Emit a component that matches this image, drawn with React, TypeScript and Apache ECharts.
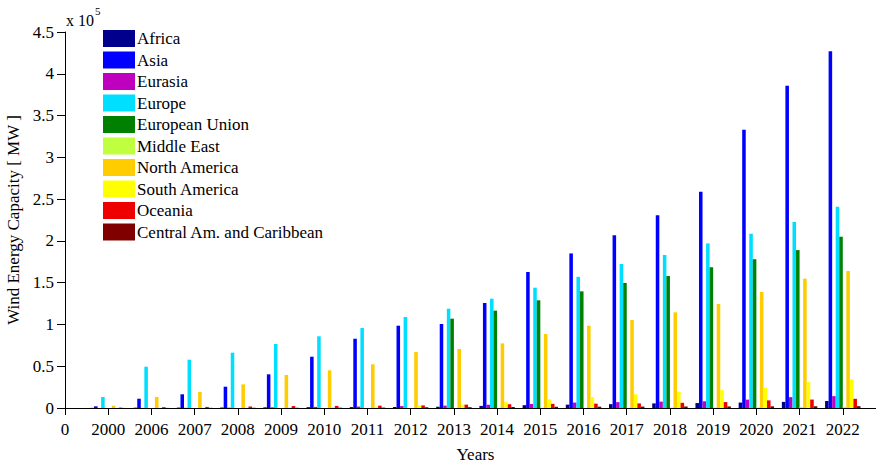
import React, { useEffect, useRef } from "react";
import * as echarts from "echarts";

const xLabels = ["0", "2000", "2006", "2007", "2008", "2009", "2010", "2011", "2012", "2013", "2014", "2015", "2016", "2017", "2018", "2019", "2020", "2021", "2022", ""];

const seriesNames = ["Africa", "Asia", "Eurasia", "Europe", "European Union", "Middle East", "North America", "South America", "Oceania", "Central Am. and Caribbean"];
const seriesColors = ["#00008C", "#0000FF", "#BF00BF", "#00DFFF", "#008000", "#BFFF3F", "#FFCC00", "#FFFF00", "#EE0000", "#800000"];

// values in MW, years 2000, 2006..2022
const africa = [150, 400, 500, 600, 800, 1000, 1100, 1200, 1500, 2500, 3400, 4000, 4600, 5500, 5900, 6500, 7300, 8400];
const asia = [2000, 11100, 16400, 25500, 40300, 61400, 82900, 98500, 100500, 125700, 162800, 185000, 206600, 230600, 258900, 333000, 385800, 426900];
const eurasia = [30, 100, 200, 400, 800, 1300, 1700, 2300, 2800, 3900, 4800, 6500, 7000, 7600, 8000, 10000, 13000, 14200];
const europe = [13200, 49400, 57800, 66200, 76600, 85800, 95700, 108900, 118800, 130800, 144000, 157000, 172300, 183000, 197000, 208600, 222600, 241000];
const europeanUnion = [0, 0, 0, 0, 0, 0, 0, 0, 106900, 116500, 128900, 139600, 149600, 158000, 168400, 178000, 189000, 205000];
const middleEast = [10, 30, 30, 40, 50, 60, 100, 110, 120, 200, 300, 300, 400, 600, 700, 800, 1300, 1500];
const northAmerica = [2800, 13200, 19100, 28300, 39500, 45100, 52300, 67000, 70600, 77400, 88600, 98500, 105300, 114500, 124500, 138800, 154800, 164000];
const southAmerica = [30, 300, 300, 400, 700, 1100, 1700, 2800, 3900, 7000, 10400, 13200, 16400, 19500, 21500, 24300, 31000, 34300];
const oceania = [500, 1000, 1300, 1800, 2300, 2500, 2800, 3100, 4000, 4500, 5000, 5200, 5500, 6200, 7100, 9100, 10100, 11000];
const centralAm = [50, 100, 200, 300, 300, 400, 500, 900, 1000, 1200, 1500, 1600, 1700, 1800, 1900, 2000, 2100, 2200];

const allValues = [africa, asia, eurasia, europe, europeanUnion, middleEast, northAmerica, southAmerica, oceania, centralAm];

const FONT = "'Liberation Serif', 'Times New Roman', serif";

export default function App() {
  const ref = useRef<HTMLDivElement>(null);
  useEffect(() => {
    if (!ref.current) return;
    const chart = echarts.init(ref.current, null, { renderer: "svg" });
    const series = seriesNames.map((name, i) => ({
      name,
      type: "bar",
      data: ["-", ...allValues[i], "-"],
      itemStyle: { color: seriesColors[i] },
      barGap: "0%",
      barCategoryGap: "18%",
    }));
    chart.setOption({
      animation: false,
      grid: { left: 65, top: 32, bottom: 56, right: -10, containLabel: false, outerBoundsMode: "none" },
      legend: {
        data: seriesNames,
        orient: "vertical",
        left: 103,
        top: 30,
        padding: 0,
        itemWidth: 32,
        itemHeight: 17,
        itemGap: 4.5,
        icon: "rect",
        textStyle: { fontFamily: FONT, fontSize: 17, color: "#000", padding: [0, 0, 0, -3] },
      },
      xAxis: {
        type: "category",
        data: xLabels,
        boundaryGap: false,
        axisLine: { lineStyle: { color: "#000", width: 1 } },
        axisTick: { show: true, length: 7, interval: 0, lineStyle: { color: "#000" } },
        axisLabel: { interval: 0, margin: 13, fontFamily: FONT, fontSize: 17, color: "#000" },
        name: "Years",
        nameLocation: "middle",
        nameGap: 38,
        nameTextStyle: { fontFamily: FONT, fontSize: 17, color: "#000" },
      },
      yAxis: {
        type: "value",
        min: 0,
        max: 450000,
        interval: 50000,
        splitLine: { show: false },
        axisLine: { show: true, lineStyle: { color: "#000", width: 1 } },
        axisTick: { show: true, length: 8, lineStyle: { color: "#000" } },
        axisLabel: {
          margin: 11,
          fontFamily: FONT,
          fontSize: 17,
          color: "#000",
          formatter: (v: number) => (v === 0 ? "0" : String(v / 100000)),
        },
        name: "Wind Energy Capacity [ MW ]",
        nameLocation: "middle",
        nameGap: 40,
        nameTextStyle: { fontFamily: FONT, fontSize: 17, color: "#000" },
      },
      graphic: [
        { type: "text", left: 66, top: 12, style: { text: "x 10", font: `16px ${FONT}`, fill: "#000" } },
        { type: "text", left: 95, top: 5, style: { text: "5", font: `11px ${FONT}`, fill: "#000" } },
      ],
      series,
    });
    return () => chart.dispose();
  }, []);
  return <div ref={ref} style={{ position: "absolute", left: 0, top: 0, width: 876, height: 464 }} />;
}
